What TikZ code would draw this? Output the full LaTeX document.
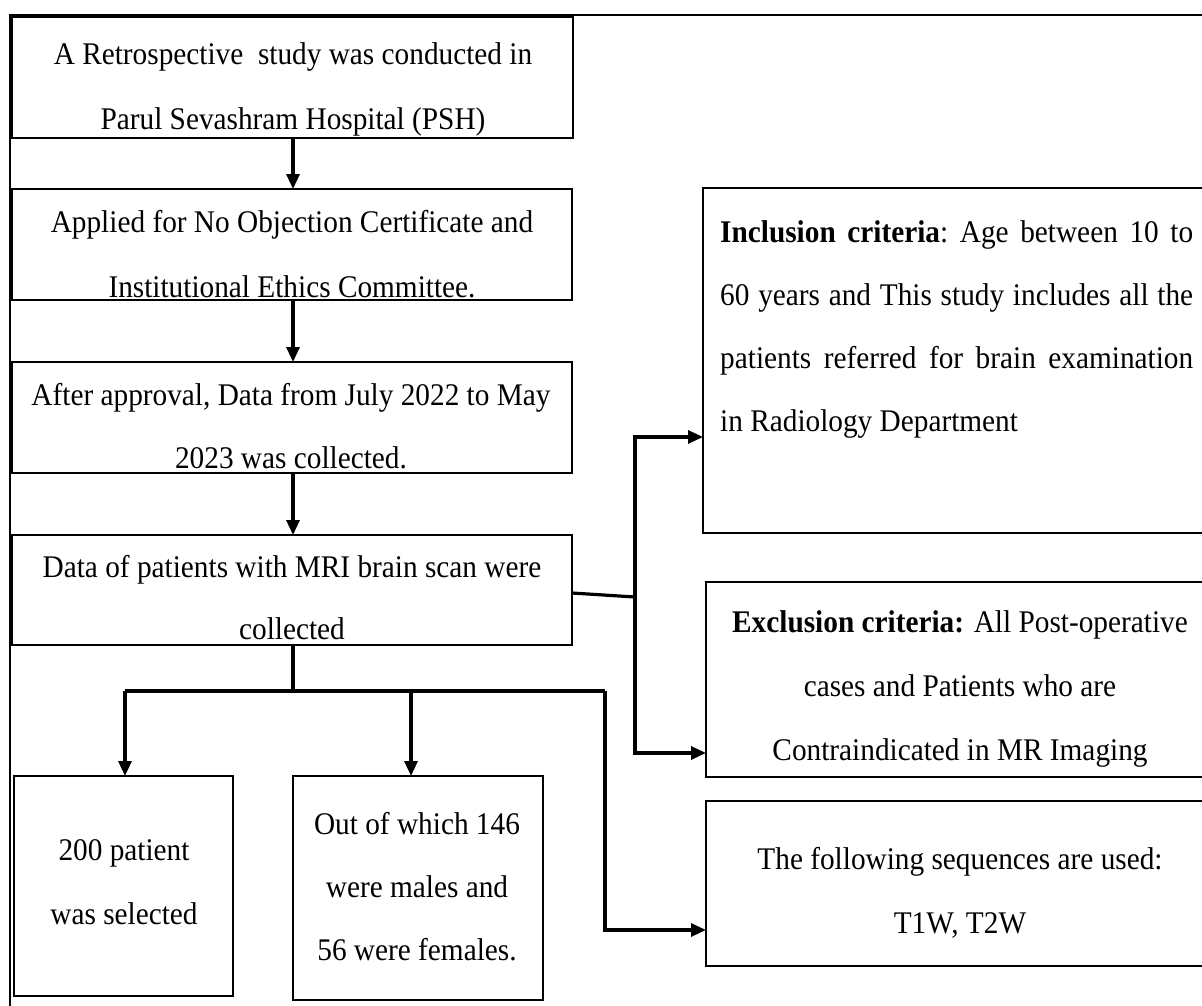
\documentclass[tikz,border=0pt]{standalone}
\usepackage{fontspec}
\setmainfont{Liberation Serif}[FakeStretch=0.93]
\usetikzlibrary{arrows.meta}
\begin{document}
\begin{tikzpicture}[x=1pt,y=-1pt,
  boxn/.style={draw=black, line width=2.5pt, inner sep=0pt, outer sep=0pt, anchor=north west},
  txt/.style={align=center, inner sep=0pt, anchor=base},
  conn/.style={line width=3.2pt},
  arr/.style={conn, -{Triangle[length=15pt,width=13pt]}},
]
\useasboundingbox (0,0) rectangle (1202,1006);
\fill[white] (0,0) rectangle (1202,1006);
% outer frame
\draw[line width=2pt] (1210,15) -- (10,15) -- (10,1010);
% left column boxes
\node[boxn, minimum width=561, minimum height=121] (b1) at (12,17) {};
\node[boxn, minimum width=560, minimum height=111] (b2) at (12,189) {};
\node[boxn, minimum width=560, minimum height=111] (b3) at (12,362) {};
\node[boxn, minimum width=560, minimum height=110] (b4) at (12,535) {};
% bottom boxes
\node[boxn, minimum width=219, minimum height=220] (b5) at (14,776) {};
\node[boxn, minimum width=250, minimum height=224] (b6) at (293,776) {};
% right boxes
\node[boxn, minimum width=520, minimum height=345] (r1) at (703,188) {};
\node[boxn, minimum width=520, minimum height=195] (r2) at (706,582) {};
\node[boxn, minimum width=520, minimum height=165] (r3) at (706,801) {};
% texts (centred texts anchored at the baseline of their last line)
\node[txt, font=\fontsize{31.5}{65}\selectfont] (t1) at (293,130) {A Retrospective\ \ study was conducted in\\Parul Sevashram Hospital (PSH)};
\node[txt, font=\fontsize{31.5}{65}\selectfont] (t2) at (292,297) {Applied for No Objection Certificate and\\Institutional Ethics Committee.};
\node[txt, font=\fontsize{31.5}{63}\selectfont] (t3) at (291,468) {After approval, Data from July 2022 to May\\2023 was collected.};
\node[txt, font=\fontsize{31.5}{62}\selectfont] (t4) at (292,639) {Data of patients with MRI brain scan were\\collected};
\node[txt, font=\fontsize{31.5}{64}\selectfont] (t5) at (124,924) {200 patient\\was selected};
\node[txt, font=\fontsize{31.5}{63}\selectfont] (t6) at (417,960) {Out of which 146\\were males and\\56 were females.};
\node[txt, anchor=base west, text width=473, align=justify, font=\fontsize{31.5}{63.3}\selectfont] (t7) at (720,242)
  {\frenchspacing\hyphenpenalty=10000\textbf{Inclusion criteria}: Age between 10 to\linebreak 60 years and This study includes all the\linebreak patients referred for brain examination\linebreak in Radiology Department};
\node[txt, font=\fontsize{31.5}{64}\selectfont] (t8) at (960,760) {\textbf{Exclusion criteria:} All Post-operative\\cases and Patients who are\\Contraindicated in MR Imaging};
\node[txt, font=\fontsize{31.5}{64}\selectfont] (t9) at (960,933) {The following sequences are used:\\T1W, T2W};
% connectors
\draw[arr] (b1.south -| 293,0) -- (b2.north -| 293,0);
\draw[arr] (b2.south -| 293,0) -- (b3.north -| 293,0);
\draw[arr] (b3.south -| 293,0) -- (b4.north -| 293,0);
\coordinate (jr) at (635,597);
\coordinate (jt) at (635,437);
\coordinate (jb) at (635,753);
\draw[conn] (b4.east |- 0,593) -- (jr);
\draw[arr] (jr) -- (jt) -- (r1.west |- jt);
\draw[arr] (jr) -- (jb) -- (r2.west |- jb);
\coordinate (hm) at (293,691);
\coordinate (hl) at (125,691);
\coordinate (hc) at (411,691);
\coordinate (hr) at (605,691);
\coordinate (hrb) at (605,930);
\draw[conn] (b4.south -| hm) -- (hm);
\draw[conn] (hl) -- (hr);
\draw[arr] (hl) -- (b5.north -| hl);
\draw[arr] (hc) -- (b6.north -| hc);
\draw[arr] (hr) -- (hrb) -- (r3.west |- hrb);
\end{tikzpicture}
\end{document}
